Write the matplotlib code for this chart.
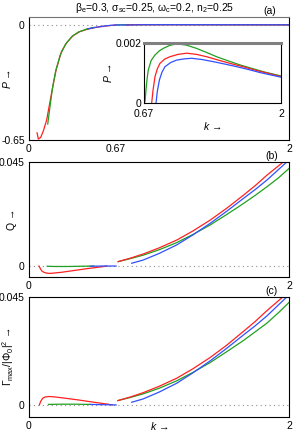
import numpy as np
import matplotlib
matplotlib.use("Agg")
import matplotlib.pyplot as plt

plt.rcParams['font.family'] = ['Liberation Sans', 'DejaVu Sans']
plt.rcParams['mathtext.fontset'] = 'custom'
plt.rcParams['mathtext.rm'] = 'Liberation Sans'
plt.rcParams['mathtext.it'] = 'Liberation Sans:italic'
plt.rcParams['font.size'] = 7.5

RED, GREEN, BLUE = '#ff2020', '#20a020', '#3050ff'

# ---- panel (a), k < 0.67 branch
ka_red = [0.062, 0.072, 0.09, 0.11, 0.136, 0.16, 0.185, 0.21, 0.25, 0.29, 0.34, 0.39, 0.45, 0.52, 0.6, 0.67]
Pa_red = [-0.61, -0.645, -0.635, -0.6, -0.537, -0.44, -0.34, -0.25, -0.15, -0.1, -0.06, -0.038, -0.024, -0.013, -0.005, 0.0]
ka_green = [0.144, 0.16, 0.18, 0.205, 0.24, 0.28, 0.33, 0.38, 0.44, 0.5]
Pa_green = [-0.56, -0.47, -0.36, -0.26, -0.17, -0.11, -0.065, -0.04, -0.024, -0.014]
ka_blue = [0.45, 0.5, 0.55, 0.6, 0.67]
Pa_blue = [-0.022, -0.015, -0.009, -0.004, 0.0]

# ---- inset, k > 0.67 branch
ki_green = [0.68, 0.69, 0.70, 0.712, 0.74, 0.777, 0.82, 0.857, 0.92, 0.987, 1.08, 1.18, 1.28, 1.376, 1.49, 1.6, 1.72, 1.83, 2.0]
Pi_green = [0.00004, 0.00045, 0.0008, 0.0011, 0.00142, 0.0016, 0.00174, 0.00182, 0.00192, 0.00197, 0.00193, 0.00182, 0.00168, 0.00154, 0.0014, 0.00127, 0.00115, 0.00104, 0.0009]
ki_red = [0.745, 0.757, 0.777, 0.8, 0.825, 0.87, 0.92, 1.0, 1.085, 1.18, 1.28, 1.39, 1.505, 1.64, 1.765, 2.0]
Pi_red = [0.0, 0.0004, 0.00088, 0.00114, 0.00132, 0.00146, 0.00154, 0.00162, 0.00166, 0.00162, 0.00154, 0.00143, 0.00132, 0.0012, 0.00108, 0.00088]
ki_blue = [0.787, 0.8, 0.82, 0.845, 0.874, 0.93, 0.987, 1.06, 1.133, 1.23, 1.34, 1.45, 1.57, 1.69, 1.8, 2.0]
Pi_blue = [0.0, 0.0004, 0.00077, 0.00103, 0.00121, 0.00135, 0.00143, 0.00147, 0.00149, 0.00145, 0.00138, 0.0013, 0.00121, 0.00111, 0.00101, 0.00086]

# ---- panel (b)
kb1_red = [0.077, 0.09, 0.1, 0.115, 0.13, 0.16, 0.25, 0.35, 0.45, 0.55, 0.6]
Qb1_red = [0.0, -0.0014, -0.0022, -0.0027, -0.003, -0.0032, -0.0027, -0.0019, -0.0011, -0.0004, 0.0]
kb1_green = [0.14, 0.2, 0.3, 0.4, 0.5]
Qb1_green = [-0.0001, -0.0002, -0.0002, -0.0001, 0.0]
kb1_blue = [0.47, 0.55, 0.67]
Qb1_blue = [-0.0001, 0.0, 0.0]
kb2_red = [0.686, 0.78, 0.879, 1.0, 1.136, 1.26, 1.393, 1.52, 1.65, 1.74, 1.83, 1.958]
Qb2_red = [0.0019, 0.0034, 0.0052, 0.0078, 0.0112, 0.0151, 0.0198, 0.0249, 0.0306, 0.0347, 0.0392, 0.045]
kb2_green = [0.686, 0.78, 0.879, 1.0, 1.136, 1.26, 1.393, 1.52, 1.65, 1.74, 1.83, 1.92, 2.0]
Qb2_green = [0.0019, 0.0032, 0.0047, 0.007, 0.0101, 0.0136, 0.0177, 0.0222, 0.027, 0.0305, 0.0342, 0.0381, 0.0421]
kb2_blue = [0.79, 0.879, 1.0, 1.136, 1.26, 1.393, 1.52, 1.65, 1.74, 1.83, 1.985]
Qb2_blue = [0.0012, 0.0026, 0.0054, 0.0091, 0.0134, 0.0184, 0.0236, 0.0292, 0.033, 0.0371, 0.045]

# ---- panel (c)
kc1_red = [0.08, 0.09, 0.106, 0.125, 0.157, 0.2, 0.247, 0.375, 0.5, 0.607, 0.64]
Gc1_red = [0.0, 0.0015, 0.0028, 0.0033, 0.0035, 0.0033, 0.003, 0.0021, 0.0011, 0.0003, 0.0]
kc1_green = [0.15, 0.25, 0.35, 0.47]
Gc1_green = [0.0002, 0.0003, 0.0003, 0.0002]
kc1_blue = [0.47, 0.57, 0.67]
Gc1_blue = [0.0002, 0.0001, 0.0]
kc2_red = [0.684, 0.78, 0.879, 1.0, 1.136, 1.26, 1.393, 1.52, 1.65, 1.74, 1.83, 1.955]
Gc2_red = [0.0018, 0.0033, 0.0051, 0.0077, 0.0111, 0.015, 0.0197, 0.0248, 0.0306, 0.0347, 0.0392, 0.045]
kc2_green = [0.684, 0.78, 0.879, 1.0, 1.136, 1.26, 1.393, 1.52, 1.65, 1.74, 1.83, 1.92, 2.0]
Gc2_green = [0.0018, 0.0031, 0.0046, 0.0069, 0.0100, 0.0135, 0.0176, 0.0221, 0.0268, 0.0304, 0.034, 0.0384, 0.0426]
kc2_blue = [0.79, 0.879, 1.0, 1.136, 1.26, 1.393, 1.52, 1.65, 1.74, 1.83, 1.985]
Gc2_blue = [0.0011, 0.0025, 0.0053, 0.0090, 0.0133, 0.0183, 0.0235, 0.0291, 0.0329, 0.0370, 0.045]

lw = 0.9


def style(ax):
    ax.tick_params(length=0, pad=3)
    for s in ax.spines.values():
        s.set_linewidth(0.8)


fig = plt.figure(figsize=(2.95, 4.36), dpi=100)

# (a)
ax0 = fig.add_axes([0.0983, 0.679, 0.8814, 0.282])
ax0.axhline(0, color='0.55', ls=(0, (1, 3)), lw=0.8)
ax0.plot(ka_red, Pa_red, color=RED, lw=lw)
ax0.plot(ka_green, Pa_green, color=GREEN, lw=lw)
ax0.plot(ka_blue, Pa_blue, color=BLUE, lw=lw)
ax0.plot(ki_green, Pi_green, color=GREEN, lw=lw)
ax0.plot(ki_red, Pi_red, color=RED, lw=lw)
ax0.plot([0.67] + ki_blue, [0.0] + Pi_blue, color=BLUE, lw=lw)
ax0.set_xlim(0, 2)
ax0.set_ylim(-0.65, 0.045)
ax0.set_xticks([0, 0.67, 2])
ax0.set_xticklabels(['0', '0.67', '2'])
ax0.set_yticks([-0.65, 0])
ax0.set_yticklabels(['-0.65', '0'])
style(ax0)
ax0.spines['top'].set_color('0.45')
ax0.set_ylabel(r'$P$ →')
ax0.yaxis.set_label_coords(-0.06, 0.5)

# inset
axi = fig.add_axes([0.488, 0.7638, 0.465, 0.1376])
axi.axhline(0, color='0.55', ls=(0, (1, 3)), lw=0.8)
axi.plot(ki_green, Pi_green, color=GREEN, lw=lw)
axi.plot(ki_red, Pi_red, color=RED, lw=lw)
axi.plot(ki_blue, Pi_blue, color=BLUE, lw=lw)
axi.set_xlim(0.67, 2)
axi.set_ylim(0, 0.002)
axi.set_xticks([0.67, 2])
axi.set_xticklabels(['0.67', '2'])
axi.set_yticks([0, 0.002])
axi.set_yticklabels(['0', '0.002'])
style(axi)
axi.tick_params(axis='y', pad=2)
axi.tick_params(axis='x', pad=4)
axi.spines['top'].set_color('0.5')
axi.spines['top'].set_linewidth(2.2)
axi.set_xlabel(r'$k$ →', labelpad=1)
axi.set_ylabel(r'$P$ →', labelpad=1)

# (b)
ax1 = fig.add_axes([0.0983, 0.3654, 0.8814, 0.2636])
ax1.axhline(0, color='0.55', ls=(0, (1, 3)), lw=0.8)
ax1.plot(kb1_red, Qb1_red, color=RED, lw=lw)
ax1.plot(kb1_green, Qb1_green, color=GREEN, lw=lw)
ax1.plot(kb1_blue, Qb1_blue, color=BLUE, lw=lw)
ax1.plot(kb2_green, Qb2_green, color=GREEN, lw=lw)
ax1.plot(kb2_blue, Qb2_blue, color=BLUE, lw=lw)
ax1.plot(kb2_red, Qb2_red, color=RED, lw=lw)
ax1.set_xlim(0, 2)
ax1.set_ylim(-0.0046, 0.045)
ax1.set_xticks([0, 2])
ax1.set_xticklabels(['0', '2'])
ax1.set_yticks([0, 0.045])
ax1.set_yticklabels(['0', '0.045'])
style(ax1)
ax1.set_ylabel('Q →')
ax1.yaxis.set_label_coords(-0.045, 0.5)

# (c)
ax2 = fig.add_axes([0.0983, 0.0443, 0.8814, 0.2752])
ax2.axhline(0, color='0.55', ls=(0, (1, 3)), lw=0.8)
ax2.plot(kc1_red, Gc1_red, color=RED, lw=lw)
ax2.plot(kc1_green, Gc1_green, color=GREEN, lw=lw)
ax2.plot(kc1_blue, Gc1_blue, color=BLUE, lw=lw)
ax2.plot(kc2_green, Gc2_green, color=GREEN, lw=lw)
ax2.plot(kc2_blue, Gc2_blue, color=BLUE, lw=lw)
ax2.plot(kc2_red, Gc2_red, color=RED, lw=lw)
ax2.set_xlim(0, 2)
ax2.set_ylim(-0.0049, 0.045)
ax2.set_xticks([0, 2])
ax2.set_xticklabels(['0', '2'])
ax2.set_yticks([0, 0.045])
ax2.set_yticklabels(['0', '0.045'])
style(ax2)
ax2.set_ylabel(r'$\Gamma_{\mathrm{max}}/|\Phi_0|^2$ →')
ax2.yaxis.set_label_coords(-0.05, 0.5)
ax2.set_xlabel(r'$k$ →')
ax2.xaxis.set_label_coords(0.5, -0.03)

fig.text(0.525, 0.982, r'β$_\mathrm{e}$=0.3, σ$_\mathrm{sc}$=0.25, ω$_\mathrm{c}$=0.2, n$_2$=0.25',
         ha='center', va='center')
fig.text(0.915, 0.974, '(a)', ha='center', va='center')
fig.text(0.92, 0.643, '(b)', ha='center', va='center')
fig.text(0.92, 0.333, '(c)', ha='center', va='center')

fig.savefig('out.png', dpi=100)
